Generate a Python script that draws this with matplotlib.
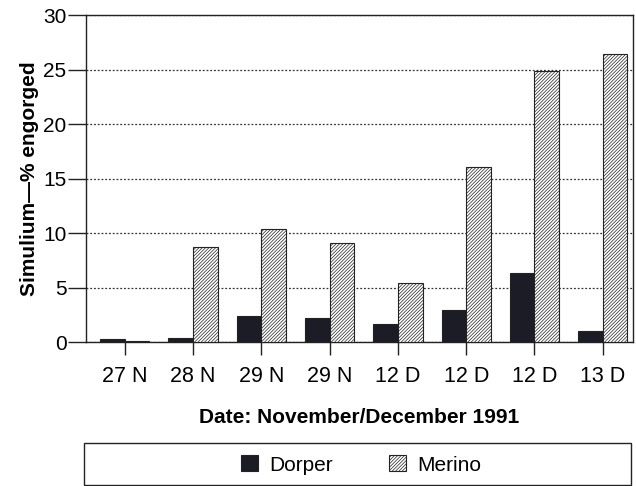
import numpy as np
import matplotlib.pyplot as plt
from matplotlib.patches import Rectangle

plt.rcParams['font.family'] = ['Liberation Sans', 'DejaVu Sans']
plt.rcParams['hatch.color'] = '#4a4a4a'
plt.rcParams['hatch.linewidth'] = 0.5

dates = ["27 N", "28 N", "29 N", "29 N", "12 D", "12 D", "12 D", "13 D"]
dorper = [0.3, 0.4, 2.4, 2.2, 1.65, 2.95, 6.35, 1.0]
merino = [0.15, 8.7, 10.4, 9.05, 5.45, 16.1, 24.9, 26.4]

x = np.arange(len(dates))
w = 0.36

fig = plt.figure(figsize=(6.36, 4.86), dpi=100)
ax = fig.add_axes([0.135, 0.296, 0.86, 0.673])

ax.bar(x - w, dorper, w, align="edge", color="#1c1c26", edgecolor="#222222",
       linewidth=0.8, label="Dorper", zorder=3)
ax.bar(x, merino, w, align="edge", color="white", edgecolor="#222222",
       hatch="//////////", linewidth=0.8, label="Merino", zorder=3)

ax.set_xlim(-0.57, 7.44)
ax.set_ylim(0, 30)
ax.set_yticks([0, 5, 10, 15, 20, 25, 30])
ax.set_xticks(x)
ax.set_xticklabels(dates)
ax.yaxis.grid(True, linestyle=(0, (1.5, 1.5)), color="#333333", linewidth=0.9, zorder=0)

for s in ax.spines.values():
    s.set_linewidth(1.0)
    s.set_color("#222222")

ax.tick_params(axis="y", length=13, width=1.0, labelsize=15, pad=1, color="#222222")
ax.tick_params(axis="x", length=9.4, width=1.0, labelsize=15.5, pad=8, color="#222222")

ax.set_ylabel("Simulium\u2014% engorged", fontsize=15, fontweight="bold", labelpad=3)
ax.set_xlabel("Date: November/December 1991", fontsize=15, fontweight="bold", labelpad=15)

# legend box along the bottom
fig.patches.append(Rectangle((84 / 636, 1 / 486), 547 / 636, 42 / 486,
                             transform=fig.transFigure, fill=False,
                             edgecolor="#222222", linewidth=1.0))
h, l = ax.get_legend_handles_labels()
fig.legend(h, l, loc="center", bbox_to_anchor=(361 / 636, 21 / 486), ncol=2,
           frameon=False, fontsize=15, handlelength=0.8, handleheight=0.8,
           columnspacing=2.7, handletextpad=0.55, borderpad=0)

fig.savefig("out.png", dpi=100)
